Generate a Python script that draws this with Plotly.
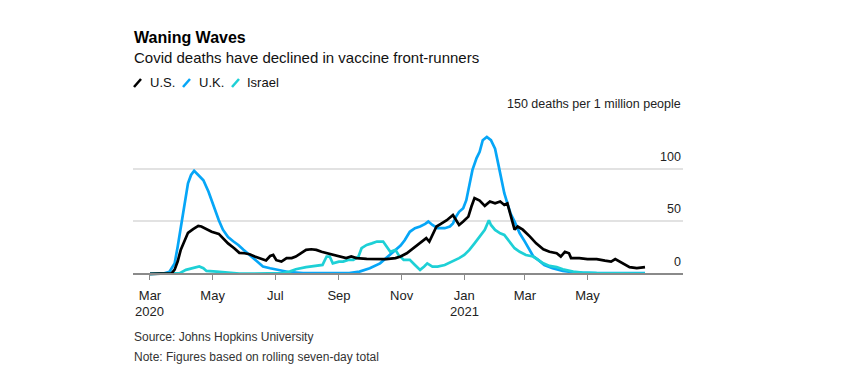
import plotly.graph_objects as go

# ---------------- data ----------------
us_dates = ["2020-03-01", "2020-03-22", "2020-03-25", "2020-03-28", "2020-03-31", "2020-04-04",
            "2020-04-07", "2020-04-12", "2020-04-17", "2020-04-20", "2020-04-25", "2020-04-30",
            "2020-05-07", "2020-05-11", "2020-05-16", "2020-05-22", "2020-05-27", "2020-06-01",
            "2020-06-06", "2020-06-11", "2020-06-16", "2020-06-22", "2020-06-26", "2020-06-29",
            "2020-07-02", "2020-07-07", "2020-07-12", "2020-07-17", "2020-07-21", "2020-07-26",
            "2020-07-31", "2020-08-05", "2020-08-10", "2020-08-15", "2020-08-21", "2020-08-28",
            "2020-09-04", "2020-09-08", "2020-09-13", "2020-09-18", "2020-09-28", "2020-10-08",
            "2020-10-17", "2020-10-26", "2020-10-31", "2020-11-06", "2020-11-12", "2020-11-19",
            "2020-11-25", "2020-11-28", "2020-12-01", "2020-12-05", "2020-12-10", "2020-12-15",
            "2020-12-21", "2020-12-24", "2020-12-27", "2020-12-31", "2021-01-05", "2021-01-08",
            "2021-01-11", "2021-01-16", "2021-01-21", "2021-01-26", "2021-01-31", "2021-02-05",
            "2021-02-09", "2021-02-12", "2021-02-15", "2021-02-19", "2021-02-22", "2021-02-27",
            "2021-03-06", "2021-03-12", "2021-03-19", "2021-03-25", "2021-04-01", "2021-04-05",
            "2021-04-09", "2021-04-13", "2021-04-15", "2021-04-23", "2021-05-01", "2021-05-10",
            "2021-05-18", "2021-05-24", "2021-05-28", "2021-06-03", "2021-06-11", "2021-06-18",
            "2021-06-26"]
us_values = [0, 0.5, 4, 12, 23, 32,
             39, 42.5, 45.6, 45, 42.5, 40,
             38, 34, 29, 24.4, 20, 19.6,
             18.7, 16.5, 15, 12.7, 17, 18,
             13, 11.7, 15, 15, 16.5, 19.6,
             22.8, 23.4, 22.8, 21, 19.6, 18,
             16.5, 15, 16.5, 15, 14.2, 14,
             14, 15, 16.5, 19.6, 24.4, 29.7,
             34, 30.7, 37, 45, 48, 51,
             56, 51, 46.5, 49.7, 54.4, 64,
             72, 69.6, 64.6, 68.7, 67, 68.7,
             65.5, 67, 56, 42, 45, 42,
             35.4, 29, 23.4, 21, 19.6, 16.5,
             21, 19.6, 15, 15, 14, 14,
             12.6, 11.7, 14, 10.7, 6.4, 5.4,
             6.4]

uk_dates = ["2020-03-01", "2020-03-15", "2020-03-20", "2020-03-25", "2020-03-28", "2020-03-31",
            "2020-04-04", "2020-04-07", "2020-04-10", "2020-04-13", "2020-04-17", "2020-04-22",
            "2020-04-27", "2020-05-02", "2020-05-07", "2020-05-11", "2020-05-16", "2020-05-21",
            "2020-05-26", "2020-05-31", "2020-06-06", "2020-06-13", "2020-06-19", "2020-06-26",
            "2020-07-05", "2020-07-15", "2020-07-28", "2020-08-23", "2020-09-11", "2020-09-21",
            "2020-10-01", "2020-10-11", "2020-10-19", "2020-10-26", "2020-10-31", "2020-11-04",
            "2020-11-09", "2020-11-14", "2020-11-19", "2020-11-24", "2020-11-27", "2020-12-01",
            "2020-12-06", "2020-12-13", "2020-12-18", "2020-12-21", "2020-12-24", "2020-12-27",
            "2020-12-31", "2021-01-03", "2021-01-06", "2021-01-09", "2021-01-13", "2021-01-16",
            "2021-01-19", "2021-01-23", "2021-01-27", "2021-01-31", "2021-02-03", "2021-02-06",
            "2021-02-09", "2021-02-12", "2021-02-15", "2021-02-19", "2021-02-24", "2021-03-01",
            "2021-03-06", "2021-03-09", "2021-03-14", "2021-03-20", "2021-03-28", "2021-04-07",
            "2021-04-20", "2021-05-10", "2021-06-26"]
uk_values = [0, 0.5, 2, 10, 26, 45,
             67, 86, 94, 98, 94, 89,
             78, 64, 51, 42, 35, 31,
             27.5, 23, 18, 11.7, 7, 5.4,
             3.8, 1.6, 0.7, 0.5, 0.7, 2.2,
             5.4, 10, 16.5, 22.8, 27, 32,
             40, 43.4, 45, 47.5, 49.7, 46.5,
             43.4, 43.4, 45, 48, 54.4, 59,
             62.4, 70, 84.5, 98.8, 110, 116,
             127, 130, 127, 119, 105, 89,
             76.6, 67, 57.6, 49.7, 38.6, 30.7,
             22.8, 17, 13.3, 8.5, 5.4, 2.8,
             1.3, 0.7, 0.8]

il_dates = ["2020-03-01", "2020-03-24", "2020-03-30", "2020-04-05", "2020-04-12", "2020-04-18",
            "2020-04-22", "2020-04-25", "2020-05-05", "2020-05-15", "2020-05-27", "2020-06-09",
            "2020-07-08", "2020-07-15", "2020-07-21", "2020-07-31", "2020-08-10", "2020-08-16",
            "2020-08-20", "2020-08-23", "2020-08-26", "2020-09-01", "2020-09-05", "2020-09-10",
            "2020-09-15", "2020-09-20", "2020-09-23", "2020-09-28", "2020-10-03", "2020-10-08",
            "2020-10-14", "2020-10-17", "2020-10-21", "2020-10-26", "2020-10-29", "2020-11-03",
            "2020-11-09", "2020-11-14", "2020-11-19", "2020-11-23", "2020-11-26", "2020-12-01",
            "2020-12-06", "2020-12-13", "2020-12-20", "2020-12-27", "2021-01-01", "2021-01-06",
            "2021-01-11", "2021-01-16", "2021-01-21", "2021-01-25", "2021-01-27", "2021-01-31",
            "2021-02-05", "2021-02-09", "2021-02-14", "2021-02-19", "2021-02-24", "2021-03-02",
            "2021-03-09", "2021-03-14", "2021-03-19", "2021-03-25", "2021-04-01", "2021-04-07",
            "2021-04-17", "2021-04-26", "2021-05-10", "2021-06-26"]
il_values = [0, 0, 0.7, 3.8, 5.4, 7,
             5.4, 2.8, 2.2, 1.6, 0.3, 0.3,
             0.7, 2.2, 4.4, 6.4, 7.6, 8.5,
             16.5, 16.5, 10, 11.7, 11.7, 13.3,
             13.3, 16.5, 24.4, 27.5, 29, 30.7,
             30.7, 26, 21, 22.8, 18, 13.3,
             13.3, 8.5, 3.8, 7, 10, 7,
             7, 8.5, 11.7, 15, 18, 22.8,
             29, 35.4, 41.8, 51, 46.5, 41.8,
             38.6, 37, 30.7, 24.4, 21, 18,
             16.5, 13.3, 10, 7.6, 6.4, 4.4,
             2.2, 1.3, 0.7, 0.3]

series_names = ["U.S.", "U.K.", "Israel"]
series_colors = ["#000000", "#06a6f7", "#1ed0d6"]

y_ticks = [0, 50, 100, 150]
y_tick_labels = ["0", "50", "100", "150 deaths per 1 million people"]

x_ticks = ["2020-03-01", "2020-05-01", "2020-07-01", "2020-09-01", "2020-11-01",
           "2021-01-01", "2021-03-01", "2021-05-01"]
x_tick_labels = ["Mar", "May", "Jul", "Sep", "Nov", "Jan", "Mar", "May"]
year_ticks = ["2020-03-01", "2021-01-01"]
year_labels = ["2020", "2021"]

title = "Waning Waves"
subtitle = "Covid deaths have declined in vaccine front-runners"
source = "Source: Johns Hopkins University"
note = "Note: Figures based on rolling seven-day total"

# ---------------- layout geometry ----------------
W, H = 868, 390
ML, MR, MT, MB = 133, 185, 116, 114
PW, PH = W - ML - MR, H - MT - MB
Y_MIN, Y_MAX = -2, 150


def px_x(px):
    return (px - ML) / PW


def px_y(py):
    return (H - MB - py) / PH


FONT = "Liberation Sans, Arial, sans-serif"

fig = go.Figure()
order = [1, 2, 0]
all_dates = [us_dates, uk_dates, il_dates]
all_vals = [us_values, uk_values, il_values]
for i in order:
    fig.add_trace(go.Scatter(
        x=all_dates[i], y=all_vals[i], mode="lines", name=series_names[i],
        line=dict(color=series_colors[i], width=2.7), showlegend=False,
        hoverinfo="skip"))

annotations = []
# y labels (above grid lines, right-aligned)
for v, t in zip(y_ticks, y_tick_labels):
    annotations.append(dict(
        x=1, xref="paper", xanchor="right", y=v, yref="y", yanchor="bottom",
        yshift=3, text=t, showarrow=False,
        font=dict(family=FONT, size=12.5, color="#222222")))

# year labels under the month ticks
for d, t in zip(year_ticks, year_labels):
    annotations.append(dict(
        x=d, xref="x", xanchor="center", y=px_y(311), yref="paper", yanchor="middle",
        text=t, showarrow=False, font=dict(family=FONT, size=13, color="#222222")))

# title / subtitle
annotations.append(dict(x=px_x(132), y=px_y(37), xref="paper", yref="paper",
                        xanchor="left", yanchor="middle", text="<b>" + title + "</b>",
                        showarrow=False, font=dict(family=FONT, size=16, color="#000000")))
annotations.append(dict(x=px_x(132), y=px_y(57), xref="paper", yref="paper",
                        xanchor="left", yanchor="middle", text=subtitle,
                        showarrow=False, font=dict(family=FONT, size=15, color="#111111")))
# source / note
annotations.append(dict(x=px_x(132), y=px_y(337), xref="paper", yref="paper",
                        xanchor="left", yanchor="middle", text=source,
                        showarrow=False, font=dict(family=FONT, size=12, color="#333333")))
annotations.append(dict(x=px_x(132), y=px_y(357), xref="paper", yref="paper",
                        xanchor="left", yanchor="middle", text=note,
                        showarrow=False, font=dict(family=FONT, size=12, color="#333333")))

# custom legend: slash + label
legend_icon_x = [134, 183, 232]
legend_text_x = [148, 197, 245]
shapes = []
for i in range(3):
    x0 = legend_icon_x[i]
    shapes.append(dict(type="line", xref="paper", yref="paper",
                       x0=px_x(x0), y0=px_y(87), x1=px_x(x0 + 7), y1=px_y(79),
                       line=dict(color=series_colors[i], width=2.5)))
    annotations.append(dict(x=px_x(legend_text_x[i]), y=px_y(82), xref="paper", yref="paper",
                            xanchor="left", yanchor="middle", text=series_names[i],
                            showarrow=False, font=dict(family=FONT, size=13, color="#111111")))

fig.update_layout(
    width=W, height=H,
    margin=dict(l=ML, r=MR, t=MT, b=MB, pad=0),
    paper_bgcolor="white", plot_bgcolor="white",
    showlegend=False,
    annotations=annotations,
    shapes=shapes,
    xaxis=dict(
        type="date",
        range=["2020-02-13 11:00", "2021-08-02"],
        tickvals=x_ticks, ticktext=x_tick_labels,
        ticks="outside", ticklen=5, tickcolor="#8a8a8a", tickwidth=1,
        showline=True, linecolor="#8a8a8a", linewidth=1.5,
        showgrid=False, zeroline=False,
        anchor="free", position=(0 - Y_MIN) / (Y_MAX - Y_MIN),
        ticklabelstandoff=5,
        tickfont=dict(family=FONT, size=13, color="#222222"),
    ),
    yaxis=dict(
        range=[Y_MIN, Y_MAX],
        tickvals=y_ticks, showticklabels=False,
        showgrid=True, gridcolor="#e2e2e2", gridwidth=1.5,
        zeroline=False, showline=False, ticks="",
    ),
)

fig.write_html("out.html", config={"displayModeBar": False},
               post_script="document.body.style.margin='0';")
